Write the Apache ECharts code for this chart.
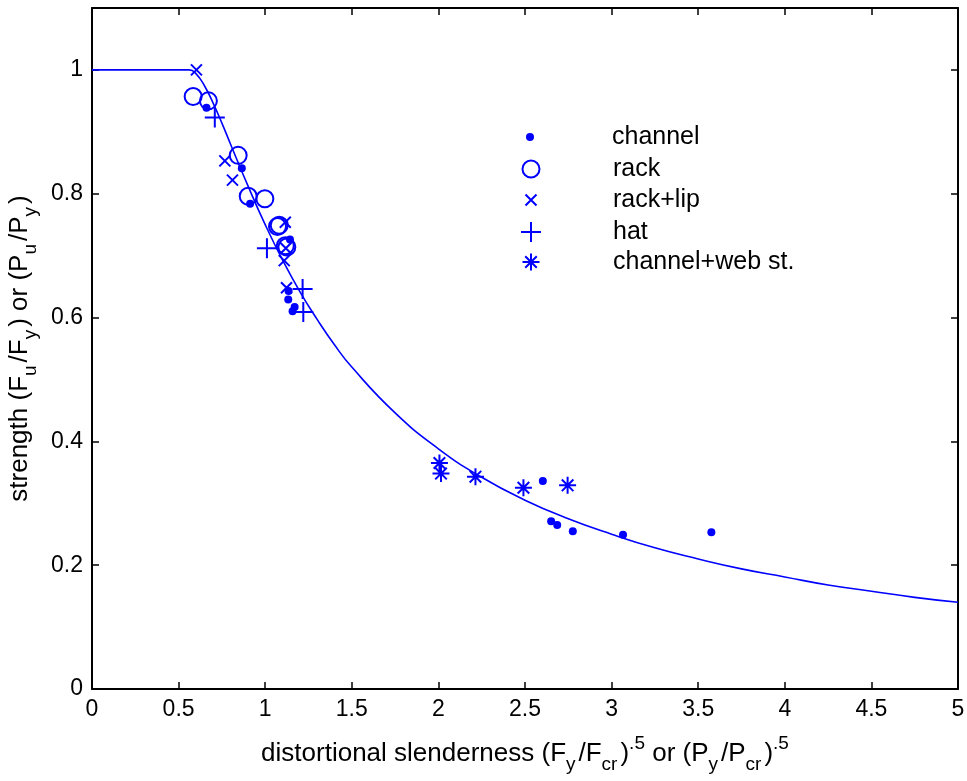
<!DOCTYPE html>
<html>
<head>
<meta charset="utf-8">
<title>distortional strength</title>
<script src="https://cdn.jsdelivr.net/npm/echarts@6/dist/echarts.min.js"></script>
<style>
  html, body { margin: 0; padding: 0; background: #fff; }
  #chart { width: 967px; height: 781px; }
</style>
</head>
<body>
<div id="chart"></div>
<script>
  // design curve
  const curveX = [0, 0.561, 0.6, 0.65, 0.7, 0.75, 0.8, 0.9, 1.0, 1.1, 1.2, 1.3, 1.4, 1.5, 1.75, 2.0,
    2.25, 2.5, 2.75, 3.0, 3.25, 3.5, 3.75, 4.0, 4.25, 4.5, 4.75, 5.0]
  const curveY = [1, 1, 0.994, 0.974, 0.946, 0.914, 0.880, 0.813, 0.750, 0.693, 0.642, 0.597, 0.556, 0.520, 0.446, 0.388,
    0.342, 0.305, 0.275, 0.250, 0.228, 0.210, 0.194, 0.181, 0.168, 0.158, 0.148, 0.140]

  // test points
  const channelX = [0.661, 0.865, 0.913, 1.143, 1.135, 1.133, 1.170, 1.158, 2.603, 2.651, 2.686, 2.776, 3.066, 3.576]
  const channelY = [0.939, 0.841, 0.784, 0.726, 0.643, 0.629, 0.617, 0.610, 0.336, 0.271, 0.265, 0.255, 0.249, 0.253]

  const rackX = [0.584, 0.672, 0.844, 0.902, 0.998, 1.071, 1.081, 1.116, 1.125]
  const rackY = [0.957, 0.950, 0.862, 0.796, 0.792, 0.747, 0.749, 0.716, 0.714]

  const rackLipX = [0.603, 0.767, 0.811, 1.116, 1.119, 1.110, 1.123]
  const rackLipY = [1.0, 0.853, 0.822, 0.754, 0.712, 0.692, 0.648]

  const hatX = [0.709, 1.010, 1.216, 1.220]
  const hatY = [0.923, 0.712, 0.646, 0.609]

  const webX = [2.006, 2.015, 2.214, 2.491, 2.746]
  const webY = [0.365, 0.348, 0.343, 0.325, 0.329]

  const xTicks = [0, 0.5, 1, 1.5, 2, 2.5, 3, 3.5, 4, 4.5, 5]
  const yTicks = [0, 0.2, 0.4, 0.6, 0.8, 1]

  const zip = (xs, ys) => xs.map((x, i) => [x, ys[i]])

  const BLUE = '#0000ff'
  const FONT = 'Liberation Sans, Arial, sans-serif'
  const CROSS = 'path://M0,0L10,10M10,0L0,10'
  const PLUS = 'path://M5,0L5,10M0,5L10,5'
  const STAR = 'path://M5,0L5,10M0,5L10,5M1.6,1.6L8.4,8.4M8.4,1.6L1.6,8.4'

  const chart = echarts.init(document.getElementById('chart'))

  const axisBase = {
    axisLine: { show: true, onZero: false, lineStyle: { color: '#000', width: 2 } },
    axisTick: { show: true, inside: true, length: 7, lineStyle: { color: '#000', width: 1.5 } },
    splitLine: { show: false },
  }

  const nameRich = {
    t: { fontFamily: FONT, fontSize: 26, color: '#000', lineHeight: 40 },
    sub: { fontFamily: FONT, fontSize: 19, color: '#000', verticalAlign: 'bottom', lineHeight: 14, padding: [0, 3, 0, 0] },
    sup: { fontFamily: FONT, fontSize: 19, color: '#000', verticalAlign: 'top', lineHeight: 14 },
  }

  // legend: one block per entry so each icon gets its own size
  const legendNames = ['channel', 'rack', 'rack+lip', 'hat', 'channel+web st.']
  const legendTops = [132, 164, 195, 227, 257]
  const legendSizes = [8, 17, 11, 20, 17]
  const legends = legendNames.map((name, i) => {
    const s = legendSizes[i]
    return {
      data: [name],
      left: 525 - s / 2,
      top: legendTops[i] - 13,
      itemWidth: s,
      itemHeight: s,
      itemGap: 0,
      selectedMode: false,
      textStyle: {
        fontFamily: FONT, fontSize: 25, color: '#000',
        height: 26, lineHeight: 26,
        padding: [0, 0, 0, 612 - (525 + s / 2) - 10],
      },
    }
  })

  const option = {
    animation: false,
    backgroundColor: '#fff',
    grid: { left: 92, right: 9, top: 8, bottom: 92, containLabel: false, outerBoundsMode: 'none' },
    legend: legends,
    xAxis: [
      {
        ...axisBase,
        type: 'value', min: 0, max: 5, interval: 0.5,
        position: 'bottom',
        axisLabel: {
          color: '#000', fontFamily: FONT, fontSize: 23, margin: 9,
          formatter: v => (xTicks.includes(v) ? String(v) : ''),
        },
        name: '{t|distortional slenderness (F}{sub|y}{t|/F}{sub|cr}{t|)}{sup|.5}{t| or (P}{sub|y}{t|/P}{sub|cr}{t|)}{sup|.5}',
        nameLocation: 'middle',
        nameGap: 45,
        nameTextStyle: { color: '#000', fontFamily: FONT, fontSize: 26, rich: nameRich },
      },
      {
        ...axisBase,
        type: 'value', min: 0, max: 5, interval: 0.5,
        position: 'top',
        axisLabel: { show: false },
      },
    ],
    yAxis: [
      {
        ...axisBase,
        type: 'value', min: 0, max: 1.1, interval: 0.2,
        position: 'left',
        axisLabel: {
          color: '#000', fontFamily: FONT, fontSize: 23, margin: 9,
          formatter: v => {
            const t = yTicks.find(k => Math.abs(k - v) < 1e-9)
            return t === undefined ? '' : String(t)
          },
        },
        name: '{t|strength (F}{sub|u}{t|/F}{sub|y}{t|) or (P}{sub|u}{t|/P}{sub|y}{t|)}',
        nameLocation: 'middle',
        nameGap: 44,
        nameTextStyle: { color: '#000', fontFamily: FONT, fontSize: 26, rich: nameRich },
      },
      {
        ...axisBase,
        type: 'value', min: 0, max: 1.1, interval: 0.2,
        position: 'right',
        axisLabel: { show: false },
      },
    ],
    series: [
      {
        name: 'curve',
        type: 'line',
        data: zip(curveX, curveY),
        smooth: true,
        showSymbol: false,
        lineStyle: { color: BLUE, width: 1.6 },
        z: 3,
      },
      {
        name: 'channel',
        type: 'scatter',
        data: zip(channelX, channelY),
        symbol: 'circle',
        symbolSize: 8,
        itemStyle: { color: BLUE, opacity: 1 },
        z: 4,
      },
      {
        name: 'rack',
        type: 'scatter',
        data: zip(rackX, rackY),
        symbol: 'circle',
        symbolSize: 17,
        itemStyle: { color: 'rgba(0,0,0,0)', borderColor: BLUE, borderWidth: 2, opacity: 1 },
        z: 4,
      },
      {
        name: 'rack+lip',
        type: 'scatter',
        data: zip(rackLipX, rackLipY),
        symbol: CROSS,
        symbolSize: 11,
        itemStyle: { color: BLUE, borderColor: BLUE, borderWidth: 2, opacity: 1 },
        z: 4,
      },
      {
        name: 'hat',
        type: 'scatter',
        data: zip(hatX, hatY),
        symbol: PLUS,
        symbolSize: 20,
        itemStyle: { color: BLUE, borderColor: BLUE, borderWidth: 2, opacity: 1 },
        z: 4,
      },
      {
        name: 'channel+web st.',
        type: 'scatter',
        data: zip(webX, webY),
        symbol: STAR,
        symbolSize: 17,
        itemStyle: { color: BLUE, borderColor: BLUE, borderWidth: 2, opacity: 1 },
        z: 4,
      },
    ],
  }

  chart.setOption(option)
</script>
</body>
</html>
